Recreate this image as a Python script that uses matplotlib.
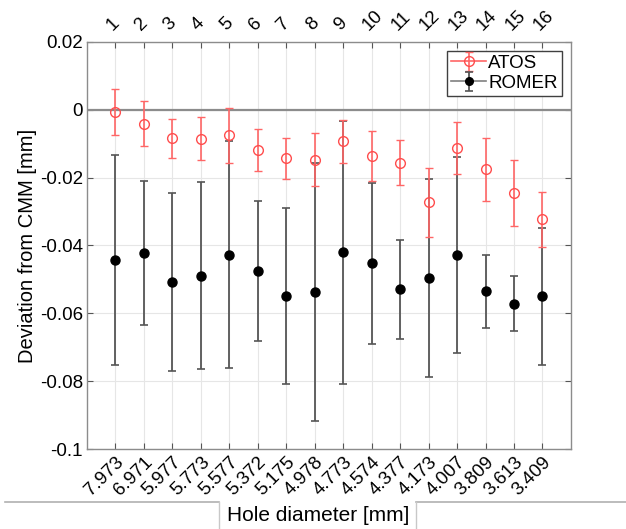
import numpy as np
import matplotlib.pyplot as plt
from matplotlib.lines import Line2D

plt.rc('font', family=['Liberation Sans', 'DejaVu Sans'])
plt.rc('font', size=13.5)

#### data
hole_index = np.arange(1, 17)
hole_diameter = ['7.973', '6.971', '5.977', '5.773', '5.577', '5.372', '5.175', '4.978',
                 '4.773', '4.574', '4.377', '4.173', '4.007', '3.809', '3.613', '3.409']

atos_mean = [-0.0007, -0.0041, -0.0084, -0.0085, -0.0076, -0.0119, -0.0143, -0.0148,
             -0.0093, -0.0136, -0.0156, -0.0273, -0.0113, -0.0176, -0.0246, -0.0323]
atos_err = [0.0069, 0.0067, 0.0058, 0.0062, 0.0081, 0.0062, 0.0061, 0.0078,
            0.0063, 0.0073, 0.0066, 0.0101, 0.0076, 0.0092, 0.0098, 0.0081]

romer_mean = [-0.0442, -0.0422, -0.0507, -0.0489, -0.0427, -0.0476, -0.0549, -0.0536,
              -0.0420, -0.0452, -0.0529, -0.0497, -0.0429, -0.0535, -0.0571, -0.0550]
romer_err = [0.0309, 0.0211, 0.0262, 0.0275, 0.0335, 0.0206, 0.0258, 0.0380,
             0.0387, 0.0237, 0.0146, 0.0292, 0.0289, 0.0107, 0.0080, 0.0201]

red_mk = '#ff4d4d'
red_bar = '#ff6666'
gray_bar = '#555555'

#### figure
fig = plt.figure(figsize=(6.26, 5.29), dpi=100)
ax = fig.add_axes([0.139, 0.151, 0.773, 0.770])

ax.grid(True, color='#e6e6e6', lw=0.8)
ax.set_axisbelow(True)
ax.axhline(0, color='#8c8c8c', lw=1.6, zorder=1)

romer_kw = dict(marker='o', ms=6.5, mfc='black', mec='black', ecolor=gray_bar,
                elinewidth=1.3, capsize=3, capthick=1.2)
atos_kw = dict(marker='o', ms=7, mfc='none', mec=red_mk, ecolor=red_bar,
               elinewidth=1.2, capsize=3, capthick=1.2, mew=1.0)

ax.errorbar(hole_index, romer_mean, romer_err, ls='None', color=gray_bar, zorder=2, **romer_kw)
ax.errorbar(hole_index, atos_mean, atos_err, ls='None', color=red_mk, zorder=3, **atos_kw)

# legend proxies (line through marker like the original)
h_atos = ax.errorbar([np.nan], [np.nan], [np.nan], ls='-', lw=1.2, color=red_bar, **atos_kw)
h_romer = ax.errorbar([np.nan], [np.nan], [np.nan], ls='-', lw=1.2, color='#808080',
                      **dict(romer_kw, ms=5.5))

ax.set_xlim(0, 17)
ax.set_ylim(-0.1, 0.02)
ax.set_yticks(np.arange(-0.1, 0.021, 0.02))
ax.set_yticklabels(['-0.1', '-0.08', '-0.06', '-0.04', '-0.02', '0', '0.02'])
ax.set_xticks(hole_index)
ax.set_xticklabels(hole_diameter, rotation=45, ha='right', rotation_mode='anchor')
ax.tick_params(direction='in', length=4, color='#555555', top=True, right=True,
               labelsize=13.5, pad=3)
for s in ax.spines.values():
    s.set_color('#8c8c8c')
    s.set_linewidth(1.0)

# top axis with hole numbers
ax_top = ax.secondary_xaxis('top')
ax_top.set_xticks(hole_index)
ax_top.set_xticklabels([str(i) for i in hole_index], rotation=45, ha='left',
                       rotation_mode='anchor')
ax_top.tick_params(direction='in', length=0, labelsize=13.5, pad=6)
ax_top.spines['top'].set_visible(False)

ax.set_ylabel('Deviation from CMM [mm]', fontsize=14.5, labelpad=2)

leg = ax.legend([h_atos, h_romer], ['ATOS', 'ROMER'], loc='upper right', fontsize=13.5,
                frameon=True, fancybox=False, edgecolor='#404040', framealpha=1,
                handlelength=1.9, handletextpad=0.1, borderpad=0.2, labelspacing=0.15,
                borderaxespad=0.5)
leg.get_frame().set_linewidth(1.0)

# xlabel tab with the line around it
fig.text(0.508, 0.025, 'Hole diameter [mm]', ha='center', va='center', fontsize=15)
y_line = 1 - 502 / 529
x_l, x_r = 219 / 626, 416 / 626
fig.add_artist(Line2D([5 / 626, x_l], [y_line, y_line], color='#b0b0b0', lw=1.2))
fig.add_artist(Line2D([x_r, 1.0], [y_line, y_line], color='#b0b0b0', lw=1.2))
fig.add_artist(Line2D([x_l, x_l], [y_line, 0.0], color='#c8c8c8', lw=1.0))
fig.add_artist(Line2D([x_r, x_r], [y_line, 0.0], color='#c8c8c8', lw=1.0))

plt.savefig('out.png', dpi=100)
